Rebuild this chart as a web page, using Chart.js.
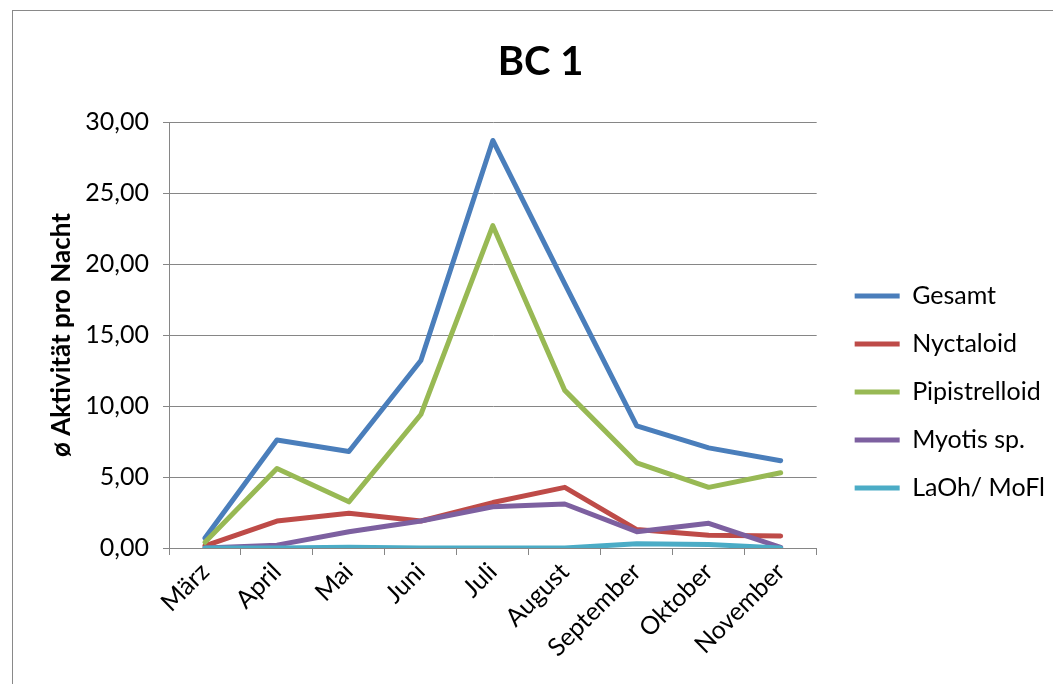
<!DOCTYPE html>
<html>
<head>
<meta charset="utf-8">
<script src="https://cdn.jsdelivr.net/npm/chart.js@4.4.1/dist/chart.umd.min.js"></script>
<style>
  html, body { margin: 0; padding: 0; background: #fff; }
  #wrap { position: relative; width: 1053px; height: 684px; overflow: hidden; }
  #frame { position: absolute; left: 12px; top: 10px; width: 1100px; height: 700px; border: 1px solid #898989; }
  #c { position: absolute; left: 0; top: 0; }
</style>
</head>
<body>
<div id="wrap"><div id="frame"></div><canvas id="c" width="1053" height="684"></canvas></div>
<script>
// data
const months = ['März', 'April', 'Mai', 'Juni', 'Juli', 'August', 'September', 'Oktober', 'November'];
const gesamt = [0.7, 7.6, 6.8, 13.2, 28.7, 18.6, 8.6, 7.05, 6.15];
const nyctaloid = [0.15, 1.9, 2.45, 1.9, 3.2, 4.27, 1.3, 0.9, 0.85];
const pipistrelloid = [0.4, 5.6, 3.25, 9.4, 22.7, 11.1, 6.0, 4.27, 5.3];
const myotis = [0.0, 0.2, 1.15, 1.9, 2.9, 3.1, 1.15, 1.74, 0.05];
const laohMofl = [0.0, 0.0, 0.05, 0.0, 0.0, 0.0, 0.3, 0.25, 0.0];
const yTicks = [0, 5, 10, 15, 20, 25, 30];

const FONT = 'Lato';
const gridGray = '#868686';

function line(label, data, color, order) {
  return {
    label: label,
    data: data,
    borderColor: color,
    backgroundColor: color,
    borderWidth: 5,
    pointRadius: 0,
    tension: 0,
    borderCapStyle: 'round',
    borderJoinStyle: 'round',
    order: order
  };
}

new Chart(document.getElementById('c'), {
  type: 'line',
  data: {
    labels: months,
    datasets: [
      line('Gesamt', gesamt, '#4A7EBB', 4),
      line('Nyctaloid', nyctaloid, '#BE4B48', 3),
      line('Pipistrelloid', pipistrelloid, '#98B954', 2),
      line('Myotis sp.', myotis, '#7D60A0', 1),
      line('LaOh/ MoFl', laohMofl, '#4BACC6', 0)
    ]
  },
  options: {
    responsive: false,
    animation: false,
    layout: { padding: { left: 26, right: -2, top: 0, bottom: 0 } },
    plugins: {
      title: {
        display: true,
        text: 'BC 1',
        color: '#000',
        font: { family: FONT, size: 40, weight: 'bold', lineHeight: 1.2 },
        padding: { top: 38, bottom: 36 }
      },
      legend: {
        position: 'right',
        // empty title only pushes the items down a bit
        title: { display: true, text: '', font: { size: 10, lineHeight: 1 }, padding: { top: 90, bottom: 0 } },
        labels: {
          color: '#000',
          font: { family: FONT, size: 25 },
          usePointStyle: true,
          pointStyle: 'line',
          pointStyleWidth: 45,
          padding: 23,
          sort: (a, b) => a.datasetIndex - b.datasetIndex
        }
      },
      tooltip: { enabled: false }
    },
    scales: {
      x: {
        offset: true,
        grid: { offset: true, drawOnChartArea: false, drawTicks: true, tickLength: 7, color: gridGray },
        border: { display: true, color: gridGray },
        ticks: { color: '#000', font: { family: FONT, size: 25 }, minRotation: 45, maxRotation: 45, padding: 2 },
        afterFit: (s) => { s.height = 136; }
      },
      y: {
        min: 0,
        max: 30,
        afterBuildTicks: (s) => { s.ticks = yTicks.map(v => ({ value: v })); },
        grid: { color: gridGray, tickLength: 6 },
        border: { color: gridGray },
        ticks: {
          color: '#000',
          font: { family: FONT, size: 25 },
          padding: 14,
          callback: (v) => v.toFixed(2).replace('.', ',')
        },
        title: {
          display: true,
          text: 'ø Aktivität pro Nacht',
          color: '#000',
          font: { family: FONT, size: 26, weight: 'bold' },
          padding: { top: 20, bottom: 0 }
        },
        afterFit: (s) => { s.width = 143; }
      },
      // hidden spacer between plot and legend
      pad: {
        type: 'linear',
        position: 'right',
        display: false,
        afterFit: (s) => { s.width = 15; }
      }
    }
  }
});
</script>
</body>
</html>
